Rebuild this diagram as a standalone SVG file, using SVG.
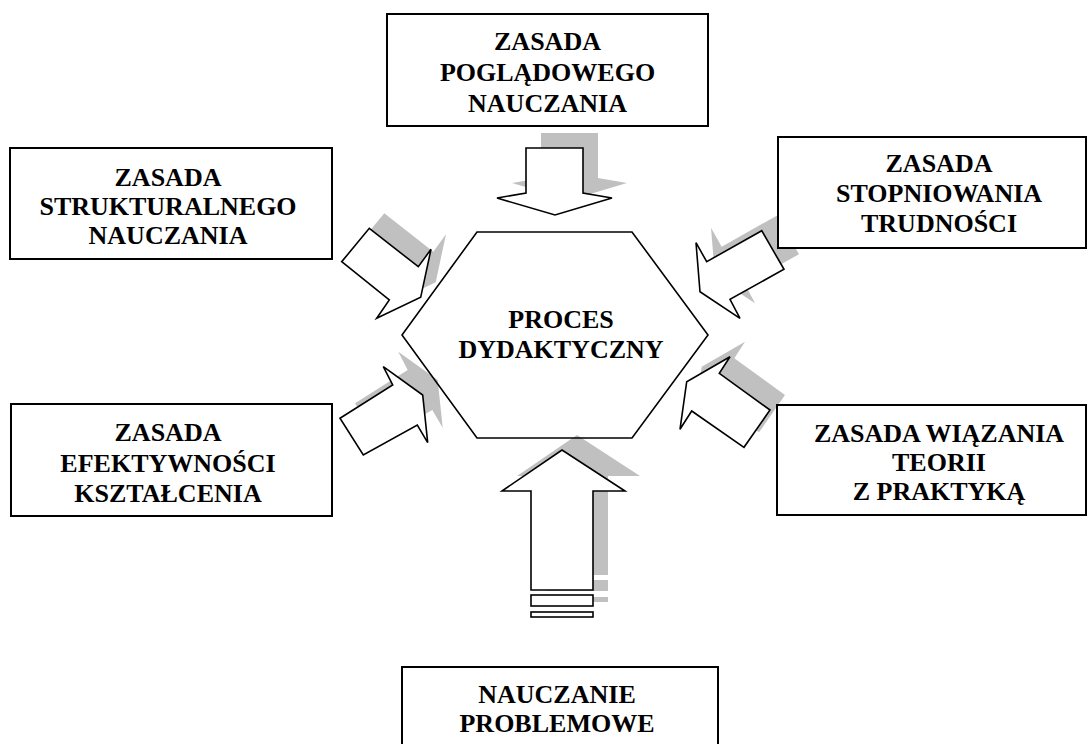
<svg xmlns="http://www.w3.org/2000/svg" xmlns:xlink="http://www.w3.org/1999/xlink" width="1090" height="744" viewBox="0 0 1090 744">
<style>
.box{fill:#fff;stroke:#000;stroke-width:2}
.hex{fill:none;stroke:#000;stroke-width:1.6}
.t{font-family:"Liberation Serif","Times New Roman",serif;font-weight:bold;font-size:26px;text-anchor:middle;fill:#000}
.shadow{fill:#c0c0c0;stroke:none}
.arrow{fill:#fff;stroke:#000;stroke-width:1.6;stroke-linejoin:miter}
</style>
<defs>
<polygon id="aTop" points="526,148 583,148 583,193 612,198 555,215 497,198 526,193"/>
<polygon id="aLT" points="369.3,228.3 418.3,266.7 431,249.3 420.7,297.3 376.7,318.3 389.3,300 341.7,261.7"/>
<polygon id="aRT" points="761.7,230.7 706.7,261.7 696,242.7 700,291.7 740,318.3 730,299.3 784,269.3"/>
<polygon id="aLB" points="340,418.3 392.7,385 383.3,366.7 422.7,395 427.7,442.7 417.3,425 363.3,455"/>
<polygon id="aRB" points="770,410 719.3,373.3 730,356.7 686.7,381.7 680,429.3 691.7,411 744,447.3"/>
<g id="aBot">
<polygon points="531,590 531,491 502,491 562,450 625,491 593,491 593,590"/>
<rect x="531" y="595" width="62" height="11"/>
<rect x="531" y="612" width="62" height="5"/>
</g>
</defs>
<rect width="1090" height="744" fill="#fff"/>
<g id="connectors">
<g class="shadow" transform="translate(15,-15)">
<use xlink:href="#aTop"/>
<use xlink:href="#aLT"/>
<use xlink:href="#aRT"/>
<use xlink:href="#aLB"/>
<use xlink:href="#aRB"/>
<use xlink:href="#aBot"/>
</g>
<g class="arrow">
<use xlink:href="#aTop"/>
<use xlink:href="#aLT"/>
<use xlink:href="#aRT"/>
<use xlink:href="#aLB"/>
<use xlink:href="#aRB"/>
<use xlink:href="#aBot"/>
</g>
</g>
<g id="proces">
<polygon class="hex" points="477,232 632,232 708,335 632,438 477,438 402,335"/>
<text class="t" x="561" y="328">PROCES</text>
<text class="t" x="561" y="358">DYDAKTYCZNY</text>
</g>
<g id="poglad">
<rect class="box" x="387" y="14" width="321" height="112"/>
<text class="t" x="547.5" y="50">ZASADA</text>
<text class="t" x="547.5" y="81">POGLĄDOWEGO</text>
<text class="t" x="547.5" y="112">NAUCZANIA</text>
</g>
<g id="strukt">
<rect class="box" x="10" y="148" width="322" height="111"/>
<text class="t" x="168" y="186">ZASADA</text>
<text class="t" x="168" y="215">STRUKTURALNEGO</text>
<text class="t" x="168" y="244">NAUCZANIA</text>
</g>
<g id="stopn">
<rect class="box" x="778" y="137" width="308" height="111"/>
<text class="t" x="939" y="172">ZASADA</text>
<text class="t" x="939" y="202">STOPNIOWANIA</text>
<text class="t" x="939" y="232">TRUDNOŚCI</text>
</g>
<g id="efekt">
<rect class="box" x="11" y="404" width="321" height="112"/>
<text class="t" x="168" y="441">ZASADA</text>
<text class="t" x="168" y="472">EFEKTYWNOŚCI</text>
<text class="t" x="168" y="502">KSZTAŁCENIA</text>
</g>
<g id="wiaz">
<rect class="box" x="777" y="405" width="309" height="110"/>
<text class="t" x="939" y="442">ZASADA WIĄZANIA</text>
<text class="t" x="939" y="471">TEORII</text>
<text class="t" x="939" y="500">Z PRAKTYKĄ</text>
</g>
<g id="problem">
<rect class="box" x="402" y="667" width="316" height="90"/>
<text class="t" x="557" y="703">NAUCZANIE</text>
<text class="t" x="557" y="732">PROBLEMOWE</text>
</g>
</svg>
